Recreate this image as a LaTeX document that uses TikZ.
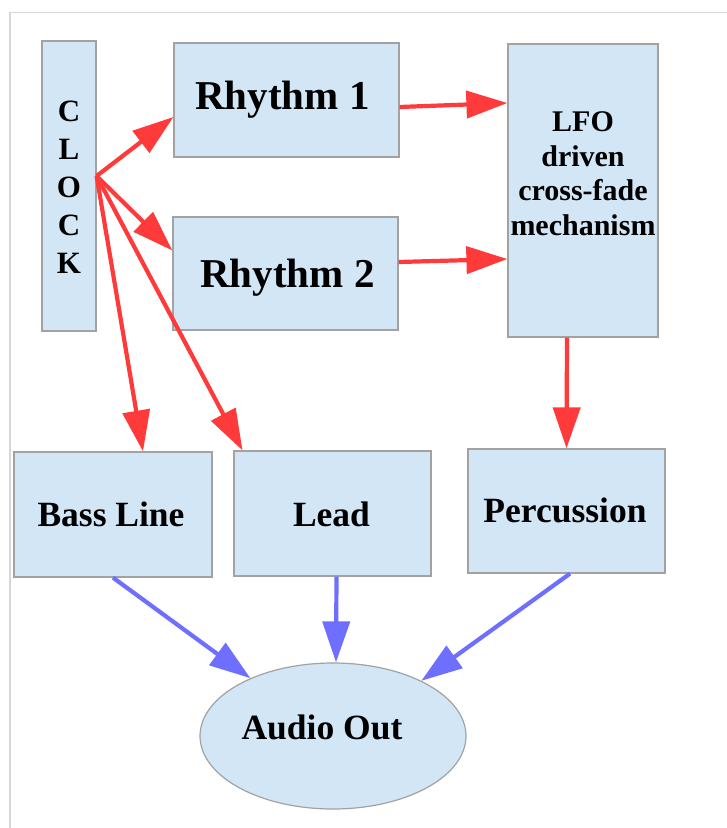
\documentclass[tikz,border=0pt]{standalone}
\usepackage{fontspec}
\setmainfont{Liberation Serif}
\usetikzlibrary{arrows.meta,shapes.geometric}
\definecolor{boxfill}{RGB}{210,230,245}
\definecolor{boxdraw}{RGB}{162,162,162}
\definecolor{redarr}{RGB}{255,58,58}
\definecolor{bluearr}{RGB}{110,110,255}
\definecolor{framecol}{RGB}{215,215,215}
\begin{document}
\begin{tikzpicture}[x=1pt,y=-1pt,
  box/.style={draw=boxdraw, fill=boxfill, line width=1.2pt, inner sep=0pt, rectangle},
  oval/.style={draw=boxdraw, fill=boxfill, line width=1.2pt, inner sep=0pt, ellipse},
  txt/.style={font=\bfseries, inner sep=0pt, anchor=base},
  redline/.style={draw=redarr, line width=4.2pt, -{Triangle[length=41pt,width=27pt]}},
  blueline/.style={draw=bluearr, line width=4.2pt, -{Triangle[length=41pt,width=27pt]}}]
\useasboundingbox (0,0) rectangle (727,828);
\draw[framecol, line width=1.5pt] (10,828) -- (10,12.5) -- (727,12.5);

% boxes
\node[box, minimum width=54pt, minimum height=290pt] (clock) at (69,186) {};
\node[box, minimum width=225pt, minimum height=114pt] (r1) at (286.5,100) {};
\node[box, minimum width=225pt, minimum height=113pt] (r2) at (285.5,273.5) {};
\node[box, minimum width=150pt, minimum height=293pt] (lfo) at (583,190.5) {};
\node[box, minimum width=198pt, minimum height=125pt] (bass) at (113,514.5) {};
\node[box, minimum width=197pt, minimum height=125pt] (lead) at (332.5,513.5) {};
\node[box, minimum width=197pt, minimum height=124pt] (perc) at (566.5,511) {};
\node[oval, minimum width=266pt, minimum height=146pt] (out) at (333,736) {};

% texts (multi-line: base = baseline of last line)
\node[txt, align=center, font=\bfseries\fontsize{31}{38}\selectfont] (tclock) at (69,273) {C\\L\\O\\C\\K};
\node[txt, font=\bfseries\fontsize{41}{41}\selectfont] (tr1) at (282.5,109) {Rhythm 1};
\node[txt, font=\bfseries\fontsize{41}{41}\selectfont] (tr2) at (287.5,287) {Rhythm 2};
\node[txt, align=center, font=\bfseries\fontsize{30}{34.5}\selectfont] (tlfo) at (583,235) {LFO\\driven\\cross-fade\\mechanism};
\node[txt, font=\bfseries\fontsize{35.5}{35.5}\selectfont] (tbass) at (111,526) {Bass Line};
\node[txt, font=\bfseries\fontsize{35.5}{35.5}\selectfont] (tlead) at (331.5,526) {Lead};
\node[txt, font=\bfseries\fontsize{35.5}{35.5}\selectfont] (tperc) at (565,522) {Percussion};
\node[txt, font=\bfseries\fontsize{35.5}{35.5}\selectfont] (tout) at (322,739) {Audio Out};

% red connectors
\coordinate (cp) at ([yshift=10pt]clock.east);
\draw[redline] (cp) -- ([yshift=-17pt]r1.west);
\draw[redline] (cp) -- ([yshift=23pt]r2.west);
\draw[redline] (cp) -- ([xshift=30pt]bass.north);
\draw[redline] (cp) -- ([xshift=-90pt]lead.north);
\draw[redline] ([yshift=-7pt]r1.east) -- ([yshift=87.5pt]lfo.west);
\draw[redline] ([yshift=11.5pt]r2.east) -- ([yshift=-68.5pt]lfo.west);
\draw[redline] ([xshift=-16pt]lfo.south) -- (perc.north);

% blue connectors
\draw[blueline] (bass.south) -- (out.145.5);
\draw[blueline] ([xshift=4pt]lead.south) -- ([xshift=3pt]out.north);
\draw[blueline] ([xshift=3.5pt]perc.south) -- (out.32);
\end{tikzpicture}
\end{document}
